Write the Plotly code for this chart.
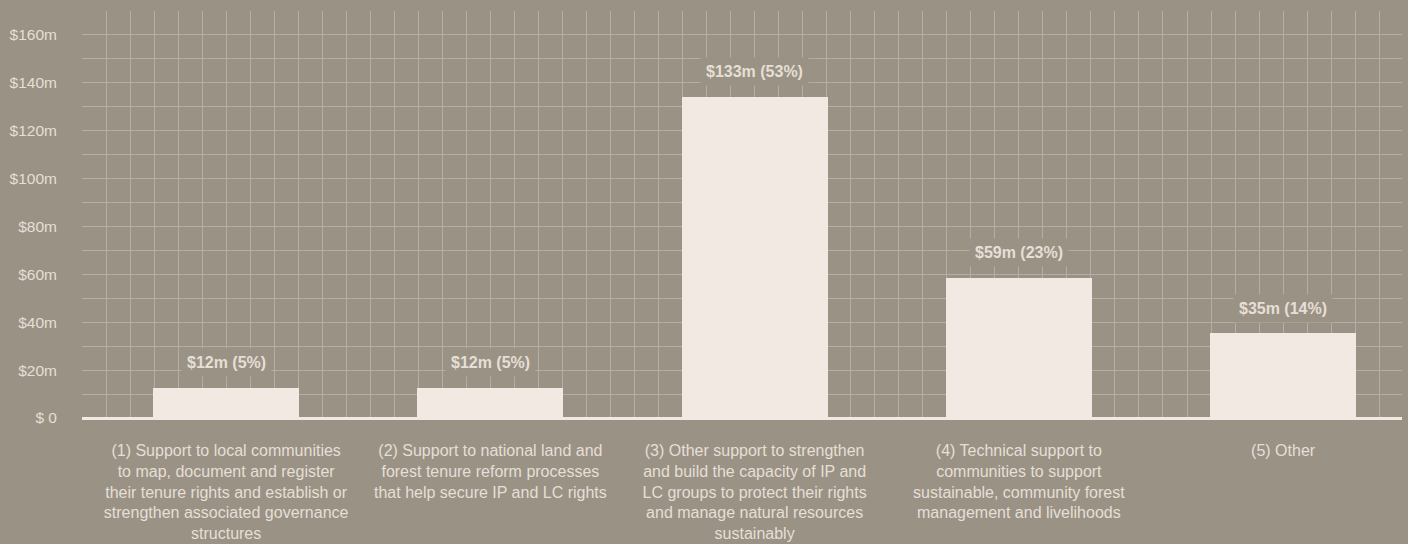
import plotly.graph_objects as go

categories = [
    "(1) Support to local communities<br>to map, document and register<br>their tenure rights and establish or<br>strengthen associated governance<br>structures",
    "(2) Support to national land and<br>forest tenure reform processes<br>that help secure IP and LC rights",
    "(3) Other support to strengthen<br>and build the capacity of IP and<br>LC groups to protect their rights<br>and manage natural resources<br>sustainably",
    "(4) Technical support to<br>communities to support<br>sustainable, community forest<br>management and livelihoods",
    "(5) Other",
]
values = [12.7, 12.7, 134.1, 58.5, 35.3]
bar_labels = ["$12m (5%)", "$12m (5%)", "$133m (53%)", "$59m (23%)", "$35m (14%)"]
y_tickvals = [0, 20, 40, 60, 80, 100, 120, 140, 160]
y_ticktext = ["$ 0", "$20m", "$40m", "$60m", "$80m", "$100m", "$120m", "$140m", "$160m"]

BG = "#9a9285"
GRID = "#b6aea2"
BAR = "#f2eae2"
TXT = "#e6dfd6"

xpos = list(range(len(categories)))

fig = go.Figure()
fig.add_trace(go.Bar(
    x=xpos, y=values, width=0.553,
    marker=dict(color=BAR, line=dict(width=0)),
    hoverinfo="skip",
))

for xi, v, lab in zip(xpos, values, bar_labels):
    fig.add_annotation(
        x=xi, y=v, text="<b>" + lab + "</b>", showarrow=False,
        yanchor="middle", yshift=25, bgcolor=BG, borderpad=5,
        font=dict(family="Liberation Sans, Arial, sans-serif", size=16, color=TXT),
    )

fig.update_layout(
    width=1408, height=544,
    margin=dict(l=82, r=6, t=11, b=126),
    paper_bgcolor=BG, plot_bgcolor=BG,
    showlegend=False,
    bargap=0,
    font=dict(family="Liberation Sans, Arial, sans-serif", size=15.5, color=TXT),
)
fig.update_xaxes(
    range=[-0.5455, 4.45],
    tickmode="array", tickvals=xpos, ticktext=categories,
    showgrid=True, gridcolor=GRID, gridwidth=1.2,
    minor=dict(dtick=1/11, tick0=0, showgrid=True, gridcolor=GRID, gridwidth=1.2),
    zeroline=False, showline=False, ticks="",
    ticklabelstandoff=21, automargin=False,
    tickfont=dict(size=16, color=TXT),
    fixedrange=True,
)
fig.update_yaxes(
    range=[0, 170],
    tickmode="array", tickvals=y_tickvals, ticktext=y_ticktext,
    showgrid=True, gridcolor=GRID, gridwidth=1.2,
    minor=dict(dtick=10, showgrid=True, gridcolor=GRID, gridwidth=1.2),
    zeroline=True, zerolinecolor=BAR, zerolinewidth=3,
    showline=False, ticks="",
    ticklabelstandoff=24, automargin=False,
    tickfont=dict(size=15.5, color=TXT),
    fixedrange=True,
)

fig.write_html(
    "out.html",
    config={"displayModeBar": False},
    post_script="document.body.style.margin='0';document.body.style.background='" + BG + "';",
)
